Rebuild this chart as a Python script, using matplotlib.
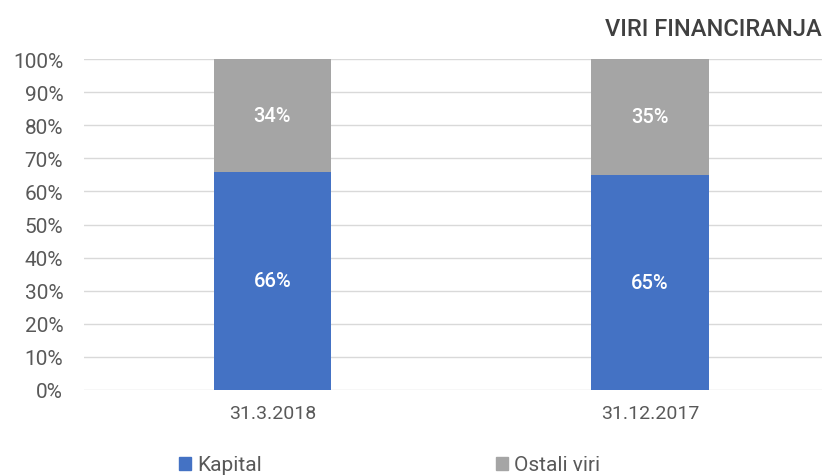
import matplotlib
matplotlib.use("Agg")
import matplotlib.pyplot as plt
from matplotlib.patches import Patch

categories = ["31.3.2018", "31.12.2017"]
kapital = [66, 65]
ostali = [34, 35]
series_names = ["Kapital", "Ostali viri"]
yticks = [0, 10, 20, 30, 40, 50, 60, 70, 80, 90, 100]

blue = "#4472C4"
gray = "#A5A5A5"
txt = "#595959"
fam = ["Roboto", "DejaVu Sans"]
plt.rcParams["font.family"] = fam

fig = plt.figure(figsize=(8.28, 4.77), dpi=100)
ax = fig.add_axes([84/828, 1 - 391/477, (822-84)/828, (391-60)/477])

x = list(range(len(categories)))
w = 0.31
ax.bar(x, kapital, width=w, color=blue, zorder=3)
ax.bar(x, ostali, width=w, bottom=kapital, color=gray, zorder=3)

for i in x:
    ax.text(i, kapital[i] / 2, f"{kapital[i]}%", ha="center", va="center",
            color="white", fontsize=14.5, fontweight="medium", zorder=4)
    ax.text(i, kapital[i] + ostali[i] / 2, f"{ostali[i]}%", ha="center", va="center",
            color="white", fontsize=14.5, fontweight="medium", zorder=4)

ax.set_xlim(-0.4993, 1.4556)
ax.set_ylim(0, 100)
ax.set_yticks(yticks)
ax.set_yticklabels([f"{t}%" for t in yticks])
ax.yaxis.grid(True, color="#D9D9D9", linewidth=1, zorder=0)
ax.set_xticks(x)
ax.set_xticklabels(categories)
ax.tick_params(axis="both", length=0, colors=txt)
ax.tick_params(axis="x", pad=10, labelsize=14)
ax.tick_params(axis="y", pad=15, labelsize=15)
for s in ax.spines.values():
    s.set_visible(False)

fig.text(822/828, 1 - 30/477, "VIRI FINANCIRANJA", ha="right", va="center",
         color="#404040", fontsize=17, fontweight="medium")

handles = [Patch(color=blue), Patch(color=gray)]
fig.legend(handles, series_names, loc="center left", bbox_to_anchor=(160/828, 1 - 466/477),
           ncol=2, frameon=False, fontsize=15, labelcolor=txt,
           handlelength=0.6, handleheight=0.6, handletextpad=0.3, columnspacing=11.2)

fig.savefig("out.png", dpi=100)
